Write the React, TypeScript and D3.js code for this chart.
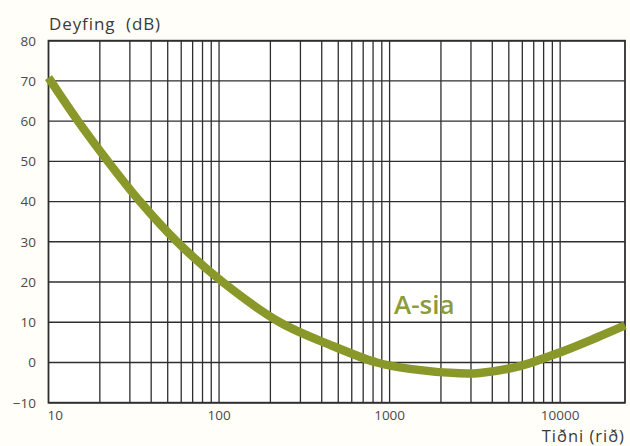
import React from "react";
import * as d3 from "d3";

// A-filter attenuation
const freqs = [10, 14.9, 22.3, 34.4, 56.7, 105, 227, 465, 842, 1315, 2580, 3380, 5800, 10400, 16400, 24000];
const atten = [70.8, 60, 50, 40, 30, 20, 10, 4.1, 0, -1.6, -2.7, -2.6, -0.9, 2.8, 6.2, 9.2];

const yTicks = [-10, 0, 10, 20, 30, 40, 50, 60, 70, 80];
const xLabels = [10, 100, 1000, 10000];
const xGrid = [20, 30, 40, 50, 60, 70, 80, 90, 100, 200, 300, 400, 500, 600, 700, 800, 900, 1000,
  2000, 3000, 4000, 5000, 6000, 7000, 8000, 9000, 10000];

const font = "'Open Sans', 'Noto Sans', sans-serif";

const App = () => {
  const width = 630;
  const height = 446;

  const x = d3.scaleLog().domain([10, 24000]).range([48.5, 625]);
  const y = d3.scaleLinear().domain([-10, 80]).range([402.7, 40.7]);

  const line = d3.line<number>()
    .x((d, i) => x(freqs[i]))
    .y(d => y(d))
    .curve(d3.curveCatmullRom.alpha(0.5));

  const gridColor = "#2e2e2e";
  const green = "#899828";

  return (
    <svg width={width} height={height} style={{ position: "absolute", left: 0, top: 0 }}>
      <rect width={width} height={height} fill="#fffef9"></rect>
      <rect x={x(10)} y={y(80)} width={x(24000) - x(10)} height={y(-10) - y(80)} fill="white"></rect>
      {
        yTicks.map((d, i) =>
          <line key={"h" + i} x1={x(10)} x2={x(24000)} y1={y(d)} y2={y(d)}
            stroke={gridColor} strokeWidth="1.4"></line>)
      }
      {
        xGrid.map((d, i) =>
          <line key={"v" + i} x1={x(d)} x2={x(d)} y1={y(80)} y2={y(-10)}
            stroke={gridColor} strokeWidth="1.3"></line>)
      }
      <rect x={x(10)} y={y(80)} width={x(24000) - x(10)} height={y(-10) - y(80)}
        fill="none" stroke={gridColor} strokeWidth="1.8"></rect>

      <path d={line(atten) || ""} fill="none" stroke={green} strokeWidth="8.5" strokeLinecap="butt"></path>

      {
        yTicks.map((d, i) =>
          <text key={"yt" + i} x="36" y={y(d)} dy="0.36em" textAnchor="end"
            fontFamily={font} fontSize="13.5" fill="#4a4a4a">
            {d < 0 ? "\u2212" + Math.abs(d) : d}
          </text>)
      }
      {
        xLabels.map((d, i) =>
          <text key={"xt" + i} x={i === 0 ? x(d) - 1 : x(d)} y="420"
            textAnchor={i === 0 ? "start" : "middle"}
            fontFamily={font} fontSize="13.5" fill="#4a4a4a">
            {d}
          </text>)
      }
      <text x="49" y="30" fontFamily={font} fontSize="17" letterSpacing="0.9" fill="#3a3a3a">Deyfing{"\u00a0"} (dB)</text>
      <text x="625" y="442" textAnchor="end" fontFamily={font} fontSize="16.5" letterSpacing="1" fill="#3a3a3a">Tiðni (rið)</text>
      <text x="394" y="314" fontFamily={font} fontSize="26" fontWeight="600" fill="#8c9b3c">A-sia</text>
    </svg>
  );
};

export default App;
